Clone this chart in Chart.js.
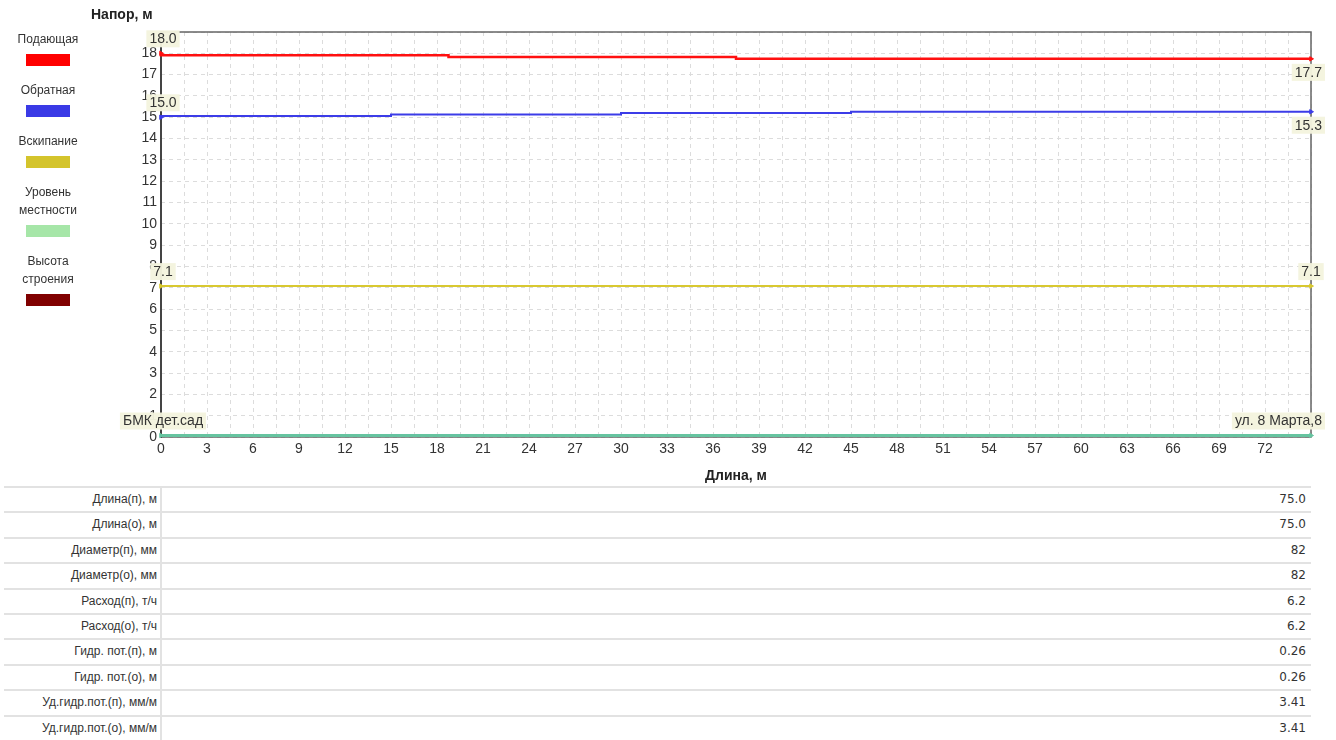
<!DOCTYPE html>
<html lang="ru">
<head>
  <meta charset="UTF-8">
  <title>Пьезометрический график</title>
  <style>
    html, body { margin: 0; padding: 0; background: #fff; }
    body { width: 1336px; height: 740px; position: relative; overflow: hidden;
           font-family: "Liberation Sans", Arial, sans-serif; color: #333; }
    #wrap { position: absolute; left: 0; top: 0; width: 1336px; height: 485px; }
    #ytitle { position: absolute; left: 91px; top: 6px; font-weight: bold; font-size: 14px; color: #222; }
    #legend { position: absolute; left: 0; top: 30px; width: 96px; font-size: 12px; text-align: center; }
    #legend .item { margin-bottom: 15px; }
    #legend .txt { line-height: 18px; }
    #legend .sw { width: 44px; height: 12px; margin: 6px auto 0; }
    #tbl { position: absolute; left: 4px; top: 486px; width: 1307px; font-size: 12px; }
    #tbl .row { display: flex; height: 23.4px; border-top: 2px solid #e2e2e2; }
    #tbl .lab { width: 153px; padding-right: 3px; text-align: right; line-height: 23px;
                border-right: 2px solid #e2e2e2; }
    #tbl .val { flex: 1; text-align: right; padding-right: 5px; line-height: 23px;
                font-family: "DejaVu Sans", Verdana, sans-serif; font-size: 12px; }
  </style>
</head>
<body>
  <div id="wrap"><canvas id="grafico"></canvas></div>
  <div id="ytitle">Напор, м</div>
  <div id="legend"></div>
  <div id="tbl"></div>

  <script src="https://cdn.jsdelivr.net/npm/chart.js"></script>
  <script>
    // Данные линий (длина, м -> напор, м)
    const supplyX = [0, 18.75, 37.5, 56.25, 75];
    const supplyY = [18.0, 17.91, 17.83, 17.74, 17.74];
    const returnX = [0, 15, 30, 45, 60, 75];
    const returnY = [15.0, 15.065, 15.13, 15.195, 15.26, 15.26];
    const boilX = [0, 75];
    const boilY = [7.08, 7.08];
    const groundX = [0, 75];
    const groundY = [0.07, 0.07];

    const nodeNames = ["БМК дет.сад", "ул. 8 Марта,8"];

    // Легенда
    const legendNames = ["Подающая", "Обратная", "Вскипание", "Уровень<br>местности", "Высота<br>строения"];
    const legendColors = ["#ff0000", "#3a3ae6", "#d4c42c", "#a6e6a8", "#800000"];

    // Таблица под графиком
    const rowLabels = ["Длина(п), м", "Длина(о), м", "Диаметр(п), мм", "Диаметр(о), мм",
      "Расход(п), т/ч", "Расход(о), т/ч", "Гидр. пот.(п), м", "Гидр. пот.(о), м",
      "Уд.гидр.пот.(п), мм/м", "Уд.гидр.пот.(о), мм/м"];
    const rowValues = ["75.0", "75.0", "82", "82", "6.2", "6.2", "0.26", "0.26", "3.41", "3.41"];

    document.getElementById("legend").innerHTML = legendNames.map((n, i) =>
      `<div class="item"><div class="txt">${n}</div><div class="sw" style="background:${legendColors[i]}"></div></div>`
    ).join("");

    document.getElementById("tbl").innerHTML = rowLabels.map((l, i) =>
      `<div class="row"><div class="lab">${l}</div><div class="val">${rowValues[i]}</div></div>`
    ).join("");

    function pts(xs, ys) { return xs.map((x, i) => ({ x: x, y: ys[i] })); }

    function endRadius(ctx) {
      const n = ctx.dataset.data.length;
      return (ctx.dataIndex === 0 || ctx.dataIndex === n - 1) ? 2.5 : 0;
    }

    function line(label, xs, ys, color, width, startText, endText, endPos) {
      return {
        label: label,
        data: pts(xs, ys),
        borderColor: color,
        backgroundColor: color,
        borderWidth: width,
        stepped: "after",
        pointRadius: endRadius,
        pointBorderWidth: 1,
        pointStyle: "triangle",
        rotation: 90,
        clip: false,
        startText: startText,
        endText: endText,
        endPos: endPos
      };
    }

    const datasets = [
      line("Подающая", supplyX, supplyY, "#ff1010", 2.5, supplyY[0].toFixed(1), supplyY[supplyY.length - 1].toFixed(1), "below"),
      line("Обратная", returnX, returnY, "#3c3ce8", 2, returnY[0].toFixed(1), returnY[returnY.length - 1].toFixed(1), "below"),
      line("Вскипание", boilX, boilY, "#d8c830", 2, boilY[0].toFixed(1), boilY[boilY.length - 1].toFixed(1), "above"),
      line("Уровень местности", groundX, groundY, "#66c4a0", 3, nodeNames[0], nodeNames[1], "above")
    ];

    // Рамка и подписи значений на концах линий
    const labelsPlugin = {
      id: "labels",
      beforeDatasetsDraw(chart) {
        const a = chart.chartArea, c = chart.ctx;
        c.save();
        c.strokeStyle = "#666";
        c.lineWidth = 1.5;
        c.beginPath();
        c.moveTo(a.left, a.top); c.lineTo(a.right, a.top); c.lineTo(a.right, a.bottom); c.lineTo(a.left, a.bottom);
        c.stroke();
        c.strokeStyle = "#444";
        c.lineWidth = 2;
        c.beginPath();
        c.moveTo(a.left, a.top - 1); c.lineTo(a.left, a.bottom + 1);
        c.stroke();
        c.restore();
      },
      afterDraw(chart) {
        const c = chart.ctx;
        c.save();
        c.font = "14px 'Liberation Sans', Arial, sans-serif";
        c.textBaseline = "middle";
        c.textAlign = "center";
        const box = (text, px, py, pos) => {
          const w = c.measureText(text).width + 6, h = 17;
          let x = px - w / 2;
          if (x + w > chart.width - 11) x = chart.width - 11 - w;
          const y = pos === "above" ? py - 6 - h : py + 5;
          c.fillStyle = "rgba(244,244,222,0.96)";
          c.fillRect(x, y, w, h);
          c.fillStyle = "#333";
          c.fillText(text, x + w / 2, y + h / 2 + 0.5);
        };
        chart.data.datasets.forEach((ds, i) => {
          const meta = chart.getDatasetMeta(i);
          const first = meta.data[0], last = meta.data[meta.data.length - 1];
          box(ds.startText, first.x + 2, first.y, "above");
          box(ds.endText, last.x, last.y, ds.endPos);
        });
        c.restore();
      }
    };

    Chart.defaults.font.family = "'Liberation Sans', Arial, sans-serif";
    Chart.defaults.color = "#333";

    new Chart(document.getElementById("grafico").getContext("2d"), {
      type: "line",
      data: { datasets: datasets },
      options: {
        responsive: true,
        maintainAspectRatio: false,
        animation: false,
        layout: { padding: { left: 0, right: 25, top: 32, bottom: 0 } },
        plugins: { legend: { display: false }, tooltip: { enabled: false } },
        scales: {
          x: {
            type: "linear",
            min: 0,
            max: 75,
            afterFit: s => { s.height = 48; },
            ticks: {
              stepSize: 1.5,
              autoSkip: false,
              maxRotation: 0,
              padding: 4,
              font: { size: 14 },
              color: "#333",
              callback: v => (v < 74 && Math.abs(v / 3 - Math.round(v / 3)) < 1e-6) ? String(Math.round(v)) : ""
            },
            grid: { color: "#dcdcdc", lineWidth: 1, drawTicks: false },
            border: { display: false, dash: [4, 4] },
            title: { display: true, text: "Длина, м", font: { size: 14, weight: "bold" }, color: "#222", padding: { top: 0, bottom: 0 } }
          },
          y: {
            min: 0,
            max: 19,
            afterFit: s => { s.width = 161; },
            ticks: { stepSize: 1, padding: 4, font: { size: 14 }, color: "#333",
              callback: v => v < 19 ? String(v) : "" },
            grid: { color: "#dcdcdc", lineWidth: 1, drawTicks: false },
            border: { display: false, dash: [4, 4] }
          }
        }
      },
      plugins: [labelsPlugin]
    });
  </script>
</body>
</html>
